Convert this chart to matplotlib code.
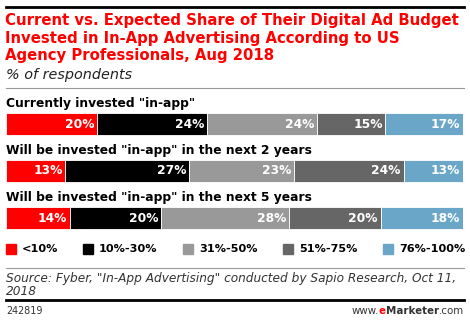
import numpy as np
import matplotlib.pyplot as plt

W, H = 470, 323

rows = ['Currently invested "in-app"',
        'Will be invested "in-app" in the next 2 years',
        'Will be invested "in-app" in the next 5 years']
buckets = ["<10%", "10%-30%", "31%-50%", "51%-75%", "76%-100%"]
share_lt10 = [20, 13, 14]
share_10_30 = [24, 27, 20]
share_31_50 = [24, 23, 28]
share_51_75 = [15, 24, 20]
share_76_100 = [17, 13, 18]
colors = ["#ff0000", "#000000", "#999999", "#666666", "#6aa6c8"]

series = [share_lt10, share_10_30, share_31_50, share_51_75, share_76_100]

plt.rcParams["font.family"] = ["DejaVu Sans"]

fig = plt.figure(figsize=(W / 100, H / 100), dpi=100)


def fx(x):
    return x / W


def fy(y):
    return 1 - y / H


# header / footer rules
fig.add_artist(plt.Line2D([fx(6), fx(464)], [fy(7), fy(7)], color="black", lw=2))
fig.add_artist(plt.Line2D([fx(6), fx(464)], [fy(88), fy(88)], color="#999999", lw=0.8))
fig.add_artist(plt.Line2D([fx(6), fx(464)], [fy(268), fy(268)], color="#999999", lw=0.8))
fig.add_artist(plt.Line2D([fx(6), fx(464)], [fy(300), fy(300)], color="black", lw=2))

title = ("Current vs. Expected Share of Their Digital Ad Budget\n"
         "Invested in In-App Advertising According to US\n"
         "Agency Professionals, Aug 2018")
fig.text(fx(5), fy(38), title, color="#ff0000", fontsize=10.7, fontweight="bold",
         va="center", ha="left", linespacing=1.24)
fig.text(fx(6), fy(75), "% of respondents", fontsize=10.4, style="italic",
         va="center", ha="left", color="#222222")

# bars
ax = fig.add_axes([fx(6), fy(241.5), fx(463) - fx(6), (241.5 - 100.5) / H])
ax.set_xlim(0, 100)
ax.set_ylim(2.5, -0.5)
ax.axis("off")

y = np.arange(len(rows))
left = np.zeros(len(rows))
for vals, col in zip(series, colors):
    vals = np.array(vals)
    ax.barh(y, vals, left=left, height=0.47, color=col, edgecolor="white", linewidth=0.6)
    for i, v in enumerate(vals):
        ax.text(left[i] + v - 0.6, y[i], f"{v}%", color="white", fontsize=8.8,
                fontweight="bold", ha="right", va="center")
    left += vals

for i, r in enumerate(rows):
    ax.text(0, y[i] - 0.43, r, fontsize=8.8, fontweight="bold", ha="left", va="center")

# legend
leg_x = [6, 83, 183, 283, 383]
for lx, lab, col in zip(leg_x, buckets, colors):
    fig.patches.append(plt.Rectangle((fx(lx), fy(254)), 10 / W, 10 / H, color=col,
                                     transform=fig.transFigure, figure=fig))
    fig.text(fx(lx + 16), fy(249), lab, fontsize=8.1, fontweight="bold",
             ha="left", va="center")

fig.text(fx(6), fy(285), 'Source: Fyber, "In-App Advertising" conducted by Sapio Research, Oct 11,\n2018',
         fontsize=8.7, style="italic", color="#333333", va="center", ha="left", linespacing=1.05)

fig.text(fx(6), fy(311), "242819", fontsize=6.9, color="#333333", va="center", ha="left")
t = fig.text(fx(464), fy(311), ".com", fontsize=7.4, color="#333333", va="center", ha="right")
fig.canvas.draw()
bb = t.get_window_extent()
t2 = fig.text(bb.x0 / fig.dpi / fig.get_figwidth(), fy(311), "Marketer", fontsize=7.4,
              fontweight="bold", color="#333333", va="center", ha="right")
bb = t2.get_window_extent()
t3 = fig.text(bb.x0 / fig.dpi / fig.get_figwidth(), fy(311), "e", fontsize=7.4,
              fontweight="bold", color="#ff0000", va="center", ha="right")
bb = t3.get_window_extent()
fig.text(bb.x0 / fig.dpi / fig.get_figwidth(), fy(311), "www.", fontsize=7.4,
         color="#333333", va="center", ha="right")

fig.savefig("out.png", dpi=100)
